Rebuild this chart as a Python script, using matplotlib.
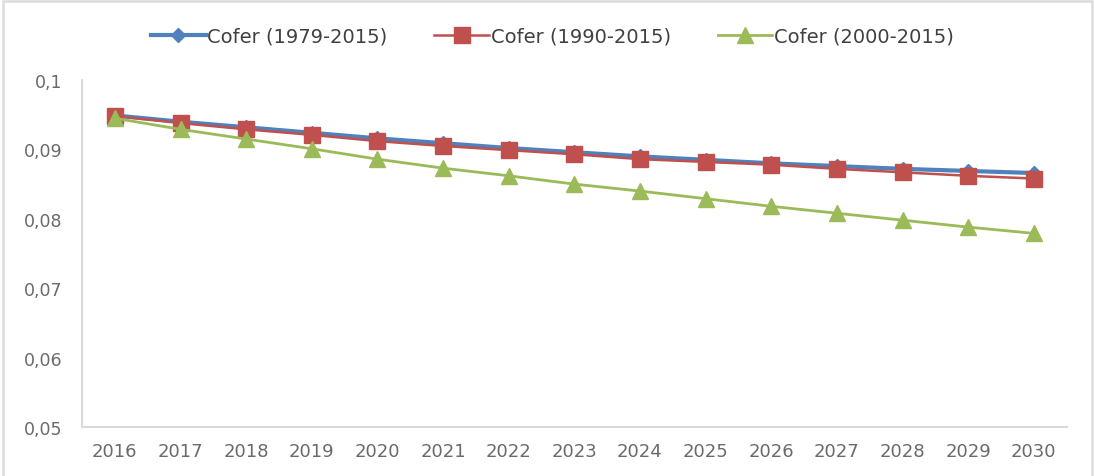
import matplotlib.pyplot as plt
from matplotlib.patches import Rectangle

plt.rcParams['font.family'] = ['DejaVu Sans']

years = [2016, 2017, 2018, 2019, 2020, 2021, 2022, 2023, 2024, 2025, 2026, 2027, 2028, 2029, 2030]
cofer_1979 = [0.0949, 0.0940, 0.0932, 0.0924, 0.0916, 0.0909, 0.0902, 0.0896, 0.0890, 0.0885,
              0.0880, 0.0876, 0.0872, 0.0869, 0.0866]
cofer_1990 = [0.0948, 0.0938, 0.0929, 0.0921, 0.0912, 0.0905, 0.0899, 0.0893, 0.0886, 0.0882,
              0.0878, 0.0872, 0.0867, 0.0862, 0.0858]
cofer_2000 = [0.0945, 0.0929, 0.0915, 0.0901, 0.0886, 0.0873, 0.0862, 0.0850, 0.0840, 0.0829,
              0.0818, 0.0808, 0.0798, 0.0788, 0.0779]
y_ticks = [0.05, 0.06, 0.07, 0.08, 0.09, 0.1]
y_labels = ['0,05', '0,06', '0,07', '0,08', '0,09', '0,1']

fig = plt.figure(figsize=(10.94, 4.77), dpi=100)
ax = fig.add_axes([0.075, 0.103, 0.900, 0.727])

# chart frame (light grey border like Excel)
fig.patches.append(Rectangle((0.003, -0.05), 0.995, 1.045, transform=fig.transFigure,
                             fill=False, edgecolor='#dcdcdc', linewidth=1.8))

ax.plot(years, cofer_1979, color='#4f81bd', linewidth=3, marker='D', markersize=7,
        label='Cofer (1979-2015)', zorder=3)
ax.plot(years, cofer_1990, color='#c0504d', linewidth=1.8, marker='s', markersize=12,
        label='Cofer (1990-2015)', zorder=4)
ax.plot(years, cofer_2000, color='#9bbb59', linewidth=2, marker='^', markersize=12,
        label='Cofer (2000-2015)', zorder=5)

ax.set_xlim(2015.5, 2030.5)
ax.set_ylim(0.05, 0.1)
ax.set_xticks(years)
ax.set_xticklabels([str(y) for y in years])
ax.set_yticks(y_ticks)
ax.set_yticklabels(y_labels)
ax.tick_params(length=0, colors='#6a6a6a', labelsize=12.5)
ax.tick_params(axis='x', pad=11, labelsize=13)
ax.tick_params(axis='y', pad=14)

for s in ['top', 'right']:
    ax.spines[s].set_visible(False)
for s in ['left', 'bottom']:
    ax.spines[s].set_color('#d9d9d9')
    ax.spines[s].set_linewidth(1.5)

leg = fig.legend(loc='center', bbox_to_anchor=(0.505, 0.922), ncol=3, frameon=False,
                 fontsize=14, handlelength=2.8, handletextpad=0.1, columnspacing=2.4)
for t in leg.get_texts():
    t.set_color('#404040')

fig.savefig('out.png', dpi=100)
